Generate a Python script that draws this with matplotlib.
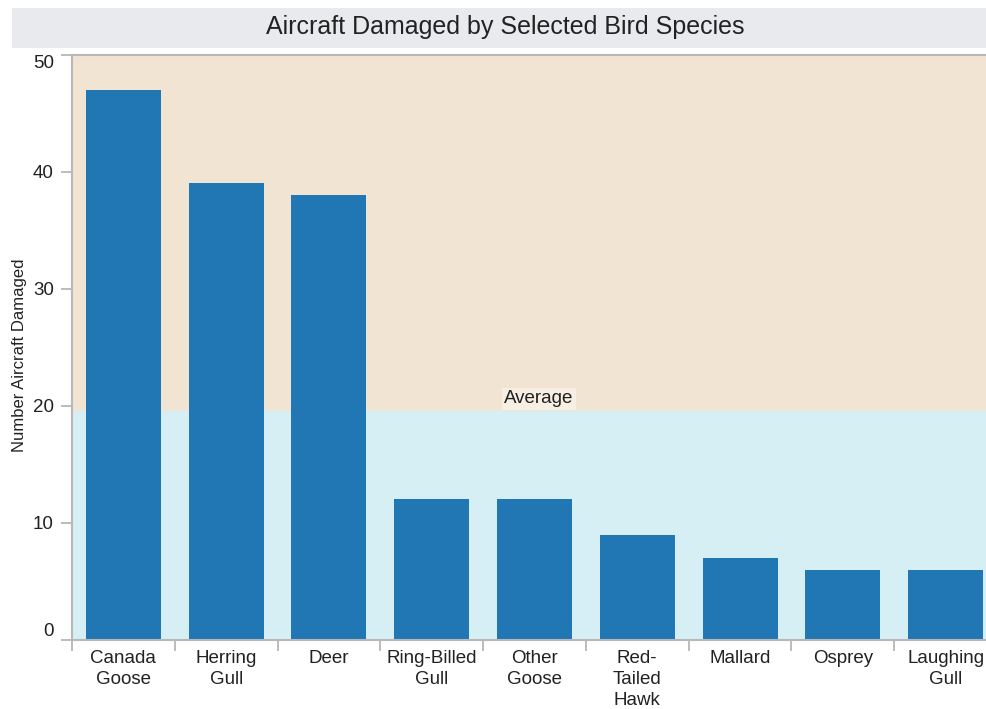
import matplotlib.pyplot as plt
from matplotlib.patches import Rectangle

plt.rcParams['font.family'] = ['Liberation Sans', 'DejaVu Sans']

species = ['Canada\nGoose', 'Herring\nGull', 'Deer', 'Ring-Billed\nGull', 'Other\nGoose',
           'Red-\nTailed\nHawk', 'Mallard', 'Osprey', 'Laughing\nGull']
damaged = [47, 39, 38, 12, 12, 9, 7, 6, 6]

avg = sum(damaged) / len(damaged)
ymax = 49.9

fig = plt.figure(figsize=(9.86, 7.09), dpi=100)
W, H = 986, 709

# Title bar
fig.patches.append(Rectangle((12 / W, 1 - 48 / H), (986 - 12) / W, 40 / H,
                             transform=fig.transFigure, facecolor='#e9eaee',
                             edgecolor='none', zorder=0))
fig.text(505 / W, 1 - 27 / H, 'Aircraft Damaged by Selected Bird Species',
         ha='center', va='center', fontsize=18, color='#222222')

# plot area runs slightly past the right edge of the image
ax = fig.add_axes([72 / W, 1 - 640 / H, (997 - 72) / W, (640 - 54.5) / H])

n = len(species)
ax.set_xlim(-0.5, n - 0.5)
ax.set_ylim(0, ymax)

# background bands above / below average
ax.axhspan(avg, ymax, color='#f2e4d2', zorder=0)
ax.axhspan(0, avg, color='#d6eff4', zorder=0)

ax.bar(range(n), damaged, width=0.73, color='#2077b4', zorder=2)

ax.text(4.04, avg + 0.3, 'Average', ha='center', va='bottom', fontsize=13.5,
        color='#222222', zorder=3,
        bbox=dict(boxstyle='square,pad=0.12', facecolor='#f8efe4', edgecolor='none'))

ax.set_yticks([0, 10, 20, 30, 40, 50])
ylabels = ax.set_yticklabels(['0', '10', '20', '30', '40', '50'], fontsize=13.5, color='#222222')
ylabels[0].set_va('bottom')
ylabels[-1].set_va('top')
ax.set_ylabel('Number Aircraft Damaged', fontsize=12, color='#222222')
ax.yaxis.set_label_coords(-0.049, 0.487)

# category boundary ticks on x axis, labels at centres
ax.set_xticks([i - 0.5 for i in range(n)])
ax.set_xticklabels([])
ax.set_xticks(range(n), minor=True)
ax.set_xticklabels(species, minor=True, fontsize=13.5, color='#222222',
                   linespacing=1.3, va='top')
ax.tick_params(axis='x', which='major', length=8, color='#b0b0b0', width=1.2)
ax.tick_params(axis='x', which='minor', length=0, pad=7)
ax.tick_params(axis='y', length=8, color='#b0b0b0', width=1.2, pad=5)

for s in ['left', 'bottom', 'top']:
    ax.spines[s].set_color('#b8b8b8')
    ax.spines[s].set_linewidth(1.5)
ax.spines['right'].set_visible(False)

fig.savefig('out.png', dpi=100)
